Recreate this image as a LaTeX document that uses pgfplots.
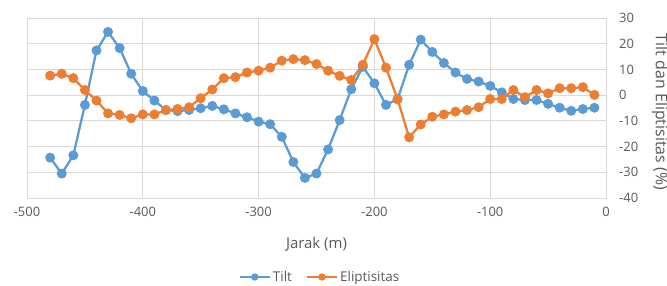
\documentclass[border=0pt]{standalone}
\usepackage{pgfplots}
\pgfplotsset{compat=1.18}
\usepackage{fontspec}
\setmainfont{Open Sans}
\definecolor{tiltblue}{RGB}{91,155,213}
\definecolor{elorange}{RGB}{237,125,49}
\definecolor{txtgray}{RGB}{89,89,89}
\definecolor{gridgray}{RGB}{217,217,217}
\begin{document}
\begin{tikzpicture}
\begin{axis}[
  at={(0,0)}, anchor=south west,
  scale only axis, width=579bp, height=180bp,
  xmin=-500, xmax=0, ymin=-40, ymax=30,
  xtick={-500,-400,...,0}, ytick={-40,-30,...,30},
  grid=major, major grid style={gridgray, line width=0.75bp},
  axis line style={gridgray, line width=0.75bp},
  major tick length=0pt,
  yticklabel pos=right,
  /pgf/number format/assume math mode=true,
  tick label style={font=\fontsize{13}{16}\selectfont, text=txtgray},
  xticklabel style={anchor=north, inner sep=0pt, yshift=-9bp},
  yticklabel style={anchor=west, inner sep=0pt, xshift=13bp},
  every axis x label/.style={at={(axis description cs:0.5,0)}, yshift=-46bp, anchor=center, font=\fontsize{15}{18}\selectfont, text=txtgray},
  every axis y label/.style={at={(axis description cs:1,0.478)}, xshift=54bp, rotate=-90, anchor=center, font=\fontsize{16}{18}\selectfont, text=txtgray},
  xlabel={Jarak (m)},
  ylabel={Tilt dan Eliptisitas (\%)},
  legend columns=2,
  legend style={at={(axis description cs:0.506,-0.439)}, anchor=center, draw=none, fill=none,
    font=\fontsize{13.5}{16}\selectfont, text=txtgray, /tikz/every even column/.append style={column sep=12bp}},
  legend image code/.code={\draw[#1, mark=none] (0bp,0bp) -- (30bp,0bp); \draw[#1, mark size=2.5bp] plot coordinates {(15bp,0bp)};},
]
\addplot[color=tiltblue, line width=2.25bp, mark=*, mark size=3.8bp, mark options={fill=tiltblue, draw=tiltblue}] coordinates {
(-480,-24.3) (-470,-30.5) (-460,-23.4) (-450,-3.8) (-440,17.4) (-430,24.6) (-420,18.3) (-410,8.3)
(-400,1.6) (-390,-2.1) (-380,-5.8) (-370,-6.2) (-360,-5.8) (-350,-5.1) (-340,-4.2) (-330,-5.5)
(-320,-7.1) (-310,-8.6) (-300,-10.3) (-290,-11.3) (-280,-16.2) (-270,-26) (-260,-32.2) (-250,-30.5)
(-240,-21.1) (-230,-9.7) (-220,2.3) (-210,11) (-200,4.6) (-190,-3.8) (-180,-1.6) (-170,11.8)
(-160,21.6) (-150,16.8) (-140,12.5) (-130,8.8) (-120,6.3) (-110,5.3) (-100,3.6) (-90,1.1)
(-80,-1.5) (-70,-1.9) (-60,-1.9) (-50,-3.4) (-40,-4.9) (-30,-6.1) (-20,-5.4) (-10,-4.9)
};
\addlegendentry{Tilt}
\addplot[color=elorange, line width=2.25bp, mark=*, mark size=3.8bp, mark options={fill=elorange, draw=elorange}] coordinates {
(-480,7.6) (-470,8.3) (-460,6.6) (-450,2) (-440,-2.1) (-430,-7.1) (-420,-7.7) (-410,-9)
(-400,-7.5) (-390,-7.5) (-380,-5.8) (-370,-5.4) (-360,-4.7) (-350,-1.2) (-340,2.2) (-330,6.6)
(-320,7) (-310,8.8) (-300,9.5) (-290,10.7) (-280,13.4) (-270,14) (-260,13.6) (-250,12.1)
(-240,9.5) (-230,7.5) (-220,5.9) (-210,11.8) (-200,21.8) (-190,10.7) (-180,-1.6) (-170,-16.4)
(-160,-11.4) (-150,-8.4) (-140,-7.5) (-130,-6.4) (-120,-5.8) (-110,-4.7) (-100,-1.5) (-90,-1.5)
(-80,2) (-70,-0.8) (-60,2) (-50,0.7) (-40,2.7) (-30,2.7) (-20,3.1) (-10,0.1)
};
\addlegendentry{Eliptisitas}
\end{axis}
\pgfresetboundingbox
\path[use as bounding box] (-27bp,-88bp) rectangle (640bp,198bp);
\end{tikzpicture}
\end{document}
